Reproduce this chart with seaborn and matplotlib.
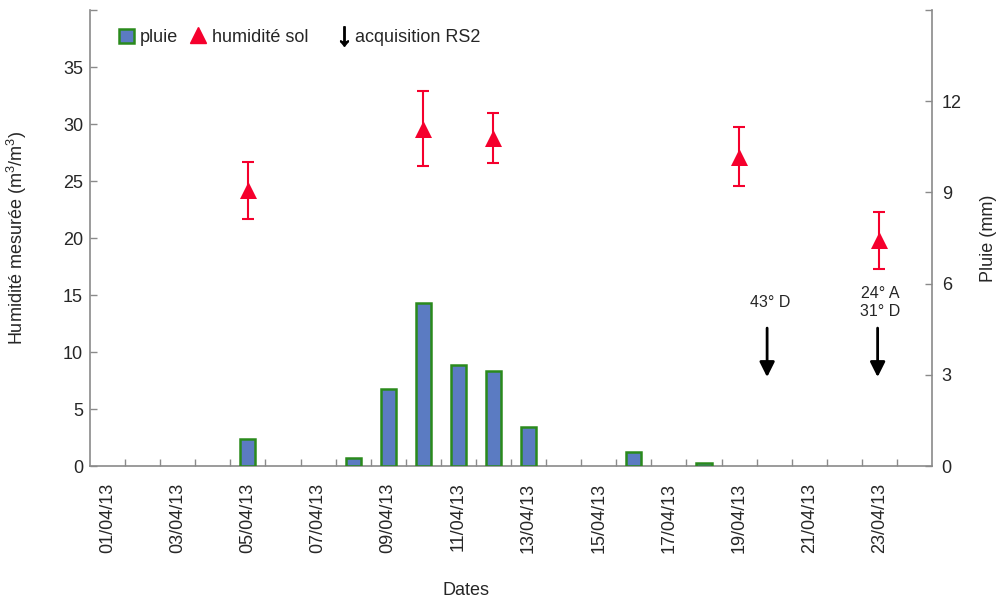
import numpy as np
import pandas as pd
import seaborn as sns
import matplotlib
matplotlib.use("Agg")
import matplotlib.pyplot as plt
from matplotlib.lines import Line2D
from matplotlib.patches import Patch

# ---- data ----
date_labels = ["01/04/13", "03/04/13", "05/04/13", "07/04/13", "09/04/13", "11/04/13",
               "13/04/13", "15/04/13", "17/04/13", "19/04/13", "21/04/13", "23/04/13"]
label_days = [1, 3, 5, 7, 9, 11, 13, 15, 17, 19, 21, 23]

rain_days = [5, 8, 9, 10, 11, 12, 13, 16, 18]
rain_mm = [0.89, 0.28, 2.52, 5.35, 3.32, 3.12, 1.30, 0.47, 0.10]

hum_days = [5, 10, 12, 19, 23]
hum_mean = [24.2, 29.6, 28.8, 27.15, 19.8]
hum_err = [2.5, 3.3, 2.2, 2.55, 2.5]

acq_days = [19.8, 22.95]
acq_labels = ["43° D", "24° A\n31° D"]

# ---- style ----
sns.set_style("white")
plt.rcParams["font.family"] = ["Liberation Sans", "DejaVu Sans"]
plt.rcParams["mathtext.fontset"] = "custom"
plt.rcParams["mathtext.rm"] = "Liberation Sans"
plt.rcParams["mathtext.it"] = "Liberation Sans:italic"

BAR_FACE = "#5b7bc2"
BAR_EDGE = "#2a8a1c"
RED = "#f5002d"
GRAY = "#8a8a8a"
FS = 13

fig = plt.figure(figsize=(10, 6), dpi=100)
ax = fig.add_axes([0.09, 0.2233, 0.842, 0.76])
ax2 = ax.twinx()

rain_df = pd.DataFrame({"day": rain_days, "mm": rain_mm})
sns.barplot(data=rain_df, x="day", y="mm", native_scale=True, width=0.43,
            color=BAR_FACE, edgecolor=BAR_EDGE, linewidth=1.8, saturation=1,
            ax=ax2)

hum_df = pd.DataFrame({"day": hum_days, "h": hum_mean, "err": hum_err})
ax.errorbar(hum_df["day"], hum_df["h"], yerr=hum_df["err"], fmt="none",
            ecolor=RED, elinewidth=1.5, capsize=4, capthick=1.5, zorder=3)
sns.scatterplot(data=hum_df, x="day", y="h", marker="^", s=150, color=RED,
                edgecolor=RED, linewidth=0, ax=ax, zorder=4)

# acquisition arrows
for xd, lab in zip(acq_days, acq_labels):
    ax.annotate("", xy=(xd, 7.8), xytext=(xd, 12.1),
                arrowprops=dict(arrowstyle="-|>,head_length=0.6,head_width=0.3",
                                color="black", lw=2, mutation_scale=15,
                                shrinkA=0, shrinkB=0))
    ax.text(xd + 0.08, 14.35, lab, ha="center", va="center", fontsize=11.5,
            linespacing=1.25)

# axes limits & ticks
ax.set_xlim(0.5, 24.5)
ax2.set_xlim(0.5, 24.5)
ax.set_ylim(0, 40)
ax2.set_ylim(0, 15)

ax.set_xticks(label_days)
ax.set_xticklabels(date_labels, rotation=90, fontsize=FS)
ax.set_xticks(np.arange(1.5, 24, 1), minor=True)
ax.tick_params(axis="x", which="major", bottom=True, length=0, pad=12)
ax.tick_params(axis="x", which="minor", bottom=True, direction="in", length=5,
               color=GRAY, width=1)

ax.set_yticks([0, 5, 10, 15, 20, 25, 30, 35, 40])
ax.set_yticklabels(["0", "5", "10", "15", "20", "25", "30", "35", ""], fontsize=FS)
ax.tick_params(axis="y", left=True, right=False, direction="in", length=5,
               color=GRAY, width=1, pad=5)

ax2.set_yticks([0, 3, 6, 9, 12, 15])
ax2.set_yticklabels(["0", "3", "6", "9", "12", ""], fontsize=FS)
ax2.tick_params(axis="y", right=True, left=False, direction="in", length=5,
                color=GRAY, width=1, pad=7)
ax2.tick_params(axis="x", which="both", length=0, labelbottom=False)

for a in (ax, ax2):
    a.spines["top"].set_visible(False)
    for s in a.spines.values():
        s.set_color(GRAY)
        s.set_linewidth(1.2)
ax2.spines["left"].set_visible(False)
ax2.spines["bottom"].set_visible(False)
ax.spines["right"].set_visible(False)

ax.set_xlabel("Dates", fontsize=FS)
ax.xaxis.set_label_coords(0.447, -0.255)
ax.set_ylabel("Humidité mesurée (m$^3$/m$^3$)", fontsize=FS)
ax.yaxis.set_label_coords(-0.073, 0.5)
ax2.set_ylabel("Pluie (mm)", fontsize=FS)
ax2.yaxis.set_label_coords(1.057, 0.5)

ax.grid(False)
ax2.grid(False)

# legends
h1 = [Patch(facecolor=BAR_FACE, edgecolor=BAR_EDGE, linewidth=1.8),
      Line2D([], [], marker="^", ls="", color=RED, markersize=12)]
leg1 = ax2.legend(h1, ["pluie", "humidité sol"], ncol=2, loc="center left",
                  bbox_to_anchor=(0.035, 0.94), frameon=False, fontsize=FS,
                  handlelength=0.8, handleheight=0.8, handletextpad=0.35,
                  columnspacing=0.7, borderpad=0, borderaxespad=0)
ax2.add_artist(leg1)
h2 = [Line2D([], [], marker=r"$\downarrow$", ls="", color="black", markersize=14)]
ax2.legend(h2, ["acquisition RS2"], loc="center left",
           bbox_to_anchor=(0.295, 0.94), frameon=False, fontsize=FS,
           handlelength=0.6, handletextpad=0.3, borderpad=0, borderaxespad=0)

fig.savefig("out.png", dpi=100)
